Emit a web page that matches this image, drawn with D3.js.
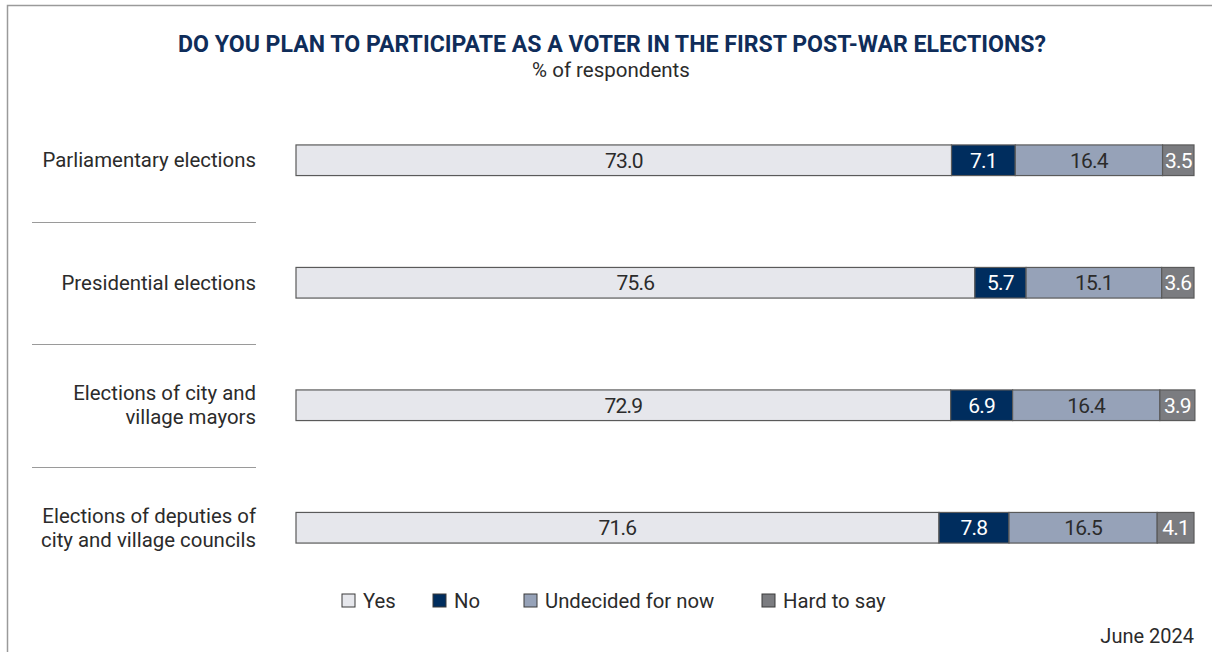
<!DOCTYPE html>
<html>
<head>
<meta charset="utf-8">
<script src="https://cdn.jsdelivr.net/npm/d3@7/dist/d3.min.js"></script>
<style>
  html, body { margin: 0; padding: 0; background: #fff; }
  svg { display: block; font-family: Roboto, "Noto Sans", sans-serif; }
</style>
</head>
<body>
<svg id="chart" width="1212" height="652"></svg>
<script>
// Survey answers, % of respondents
const categories = [
  ["Parliamentary elections"],
  ["Presidential elections"],
  ["Elections of city and", "village mayors"],
  ["Elections of deputies of", "city and village councils"]
];
const seriesNames = ["Yes", "No", "Undecided for now", "Hard to say"];
const yesValues = [73.0, 75.6, 72.9, 71.6];
const noValues = [7.1, 5.7, 6.9, 7.8];
const undecidedValues = [16.4, 15.1, 16.4, 16.5];
const hardValues = [3.5, 3.6, 3.9, 4.1];

const colors = ["#e6e7ec", "#002d5e", "#96a2b8", "#7b7c80"];
const labelColors = ["#2b2b2b", "#ffffff", "#2b2b2b", "#ffffff"];

const rows = categories.map((c, i) => ({
  lines: c,
  values: [yesValues[i], noValues[i], undecidedValues[i], hardValues[i]]
}));

const svg = d3.select("#chart");

// frame
svg.append("path")
  .attr("d", "M7.5,652 V5.5 H1212")
  .attr("fill", "none").attr("stroke", "#9a9a9a").attr("stroke-width", 1.5);

// title
svg.append("text")
  .attr("x", 612).attr("y", 52)
  .attr("text-anchor", "middle")
  .attr("font-weight", 700).attr("font-size", 23)
  .attr("fill", "#0f2d5a")
  .attr("textLength", 868).attr("lengthAdjust", "spacingAndGlyphs")
  .text("DO YOU PLAN TO PARTICIPATE AS A VOTER IN THE FIRST POST-WAR ELECTIONS?");

svg.append("text")
  .attr("x", 611).attr("y", 77)
  .attr("text-anchor", "middle")
  .attr("font-size", 20.5).attr("fill", "#2b2b2b")
  .text("% of respondents");

const x = d3.scaleLinear().domain([0, 100]).range([296, 1194]);
const y = d3.scaleBand()
  .domain(d3.range(rows.length))
  .range([99, 589])
  .paddingInner(0.75).paddingOuter(0.375);

const g = svg.append("g");

rows.forEach((row, i) => {
  const yy = y(i);
  const bh = y.bandwidth();
  const cy = yy + bh / 2;
  let acc = 0;
  row.values.forEach((v, k) => {
    const x0 = x(acc), x1 = x(acc + v);
    g.append("rect")
      .attr("x", x0).attr("y", yy)
      .attr("width", x1 - x0).attr("height", bh)
      .attr("fill", colors[k])
      .attr("stroke", "#5a5a5a").attr("stroke-width", 1.2);
    g.append("text")
      .attr("x", (x0 + x1) / 2).attr("y", cy + 7.5)
      .attr("text-anchor", "middle")
      .attr("font-size", 21).attr("fill", labelColors[k])
      .attr("letter-spacing", -0.8)
      .text(v.toFixed(1));
    acc += v;
  });

  // category label
  const lab = g.append("text")
    .attr("text-anchor", "end")
    .attr("font-size", 20.4).attr("fill", "#2b2b2b");
  const n = row.lines.length;
  row.lines.forEach((ln, j) => {
    lab.append("tspan")
      .attr("x", 256)
      .attr("y", cy + 7 + (j - (n - 1) / 2) * 24)
      .text(ln);
  });

  // separator
  if (i < rows.length - 1) {
    const sy = Math.round((y(i) + bh + y(i + 1)) / 2) + 0.5;
    g.append("line")
      .attr("x1", 32).attr("x2", 256)
      .attr("y1", sy).attr("y2", sy)
      .attr("stroke", "#9a9a9a").attr("stroke-width", 1);
  }
});

// legend
const legendX = [342, 433, 524, 762];
const legend = svg.append("g");
seriesNames.forEach((name, k) => {
  legend.append("rect")
    .attr("x", legendX[k]).attr("y", 594)
    .attr("width", 13).attr("height", 13)
    .attr("fill", colors[k])
    .attr("stroke", "#3a3a3a").attr("stroke-width", 1);
  legend.append("text")
    .attr("x", legendX[k] + 21).attr("y", 608)
    .attr("font-size", 20.3).attr("fill", "#2b2b2b")
    .text(name);
});

svg.append("text")
  .attr("x", 1194).attr("y", 643)
  .attr("text-anchor", "end")
  .attr("font-size", 20).attr("fill", "#2b2b2b")
  .text("June 2024");
</script>
</body>
</html>
